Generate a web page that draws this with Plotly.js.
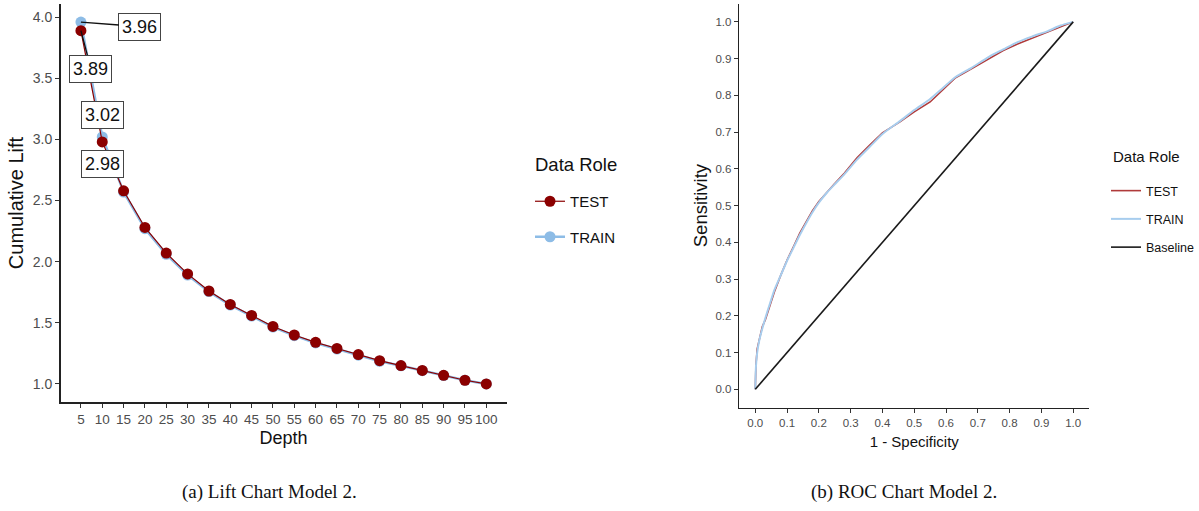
<!DOCTYPE html>
<html>
<head>
<meta charset="utf-8">
<script src="https://cdn.plot.ly/plotly-3.0.1.min.js"></script>
<style>html,body{margin:0;padding:0;background:#fff;}#chart{width:1199px;height:511px;}</style>
</head>
<body>
<div id="chart"></div>
<script>
// ---- Lift chart data ----
const depth = [5,10,15,20,25,30,35,40,45,50,55,60,65,70,75,80,85,90,95,100];
const liftTest = [3.89,2.98,2.58,2.28,2.07,1.90,1.76,1.65,1.56,1.47,1.40,1.34,1.29,1.24,1.19,1.15,1.11,1.07,1.03,1.00];
const liftTrain = [3.96,3.02,2.57,2.27,2.06,1.89,1.755,1.645,1.555,1.465,1.395,1.335,1.285,1.235,1.185,1.148,1.108,1.068,1.03,1.00];
const depthTicks = depth;
const liftTicks = [1.0,1.5,2.0,2.5,3.0,3.5,4.0];

// ---- ROC chart data ----
const fprTrain = [0,0.002,0.006,0.013,0.022,0.032,0.045,0.06,0.08,0.10,0.12,0.14,0.16,0.18,0.20,0.225,0.25,0.28,0.32,0.36,0.40,0.455,0.50,0.55,0.59,0.63,0.68,0.735,0.78,0.825,0.87,0.92,0.96,1.0];
const tprTrain = [0,0.06,0.10,0.135,0.165,0.195,0.23,0.27,0.31,0.35,0.385,0.42,0.452,0.482,0.508,0.535,0.558,0.585,0.625,0.66,0.695,0.73,0.76,0.79,0.82,0.85,0.875,0.905,0.925,0.945,0.96,0.975,0.99,1.0];
const fprTest = [0,0.002,0.006,0.013,0.022,0.032,0.045,0.06,0.08,0.10,0.12,0.14,0.16,0.18,0.20,0.225,0.25,0.28,0.32,0.36,0.40,0.455,0.50,0.55,0.59,0.63,0.68,0.735,0.78,0.825,0.87,0.92,0.96,1.0];
const tprTest = [0,0.065,0.11,0.14,0.17,0.19,0.225,0.265,0.31,0.352,0.388,0.425,0.456,0.486,0.511,0.537,0.56,0.588,0.63,0.665,0.698,0.728,0.755,0.782,0.815,0.848,0.872,0.9,0.922,0.94,0.955,0.972,0.985,1.0];
const baseX = [0,1];
const baseY = [0,1];
const rocTicks = [0,0.1,0.2,0.3,0.4,0.5,0.6,0.7,0.8,0.9,1.0];

const RED = '#8B0000';
const BLUE = '#8DBCE6';
const ROC_RED = '#B03A3A';
const ROC_BLUE = '#A7CDEE';
const FONT = 'Liberation Sans, Arial, sans-serif';
const SERIF = 'Liberation Serif, serif';

const traces = [
  {x: depth, y: liftTrain, name: 'TRAIN', type: 'scatter', mode: 'lines+markers',
   line: {color: BLUE, width: 2.5}, marker: {color: BLUE, size: 11},
   xaxis: 'x', yaxis: 'y', legend: 'legend', legendrank: 2, legendgroup: 'a2'},
  {x: depth, y: liftTest, name: 'TEST', type: 'scatter', mode: 'lines+markers',
   line: {color: RED, width: 1.2}, marker: {color: RED, size: 11},
   xaxis: 'x', yaxis: 'y', legend: 'legend', legendrank: 1, legendgroup: 'a1'},
  {x: fprTest, y: tprTest, name: 'TEST', type: 'scatter', mode: 'lines',
   line: {color: ROC_RED, width: 1.6},
   xaxis: 'x2', yaxis: 'y2', legend: 'legend2', legendrank: 1, legendgroup: 'b1'},
  {x: fprTrain, y: tprTrain, name: 'TRAIN', type: 'scatter', mode: 'lines',
   line: {color: ROC_BLUE, width: 2, shape: 'spline', smoothing: 0.6},
   xaxis: 'x2', yaxis: 'y2', legend: 'legend2', legendrank: 2, legendgroup: 'b2'},
  {x: baseX, y: baseY, name: 'Baseline', type: 'scatter', mode: 'lines',
   line: {color: '#1a1a1a', width: 1.6},
   xaxis: 'x2', yaxis: 'y2', legend: 'legend2', legendrank: 3, legendgroup: 'b3'}
];

const axisCommon = {
  showline: true, linecolor: '#222', linewidth: 1.6, ticks: 'outside', ticklen: 4,
  tickcolor: '#333', tickwidth: 1, showgrid: false, zeroline: false, tickangle: 0,
  tickfont: {family: FONT, size: 14, color: '#4D4D4D'}
};

function lbl(x, y, ax, ay, hideArrow) {
  return {x: x, y: y, xref: 'x', yref: 'y', text: y.toFixed(2), showarrow: true,
    ax: ax, ay: ay, arrowhead: 0, arrowwidth: 1.3,
    arrowcolor: hideArrow ? 'rgba(0,0,0,0)' : '#111',
    bgcolor: '#fff', bordercolor: '#444', borderwidth: 1, borderpad: 3,
    font: {family: FONT, size: 18, color: '#111'}};
}

const layout = {
  width: 1199, height: 511, margin: {l: 0, r: 0, t: 0, b: 0},
  paper_bgcolor: '#fff', plot_bgcolor: '#fff', showlegend: true,
  xaxis: Object.assign({}, axisCommon, {domain: [60.7/1199, 507/1199], anchor: 'y',
    range: [0.25, 104.75], tickvals: depthTicks, ticktext: depthTicks.map(String),
    tickfont: {family: FONT, size: 13.5, color: '#4D4D4D'},
    title: {text: 'Depth', font: {family: FONT, size: 18, color: '#111'}, standoff: 5}}),
  yaxis: Object.assign({}, axisCommon, {domain: [1 - 402/511, 1 - 4/511], anchor: 'x',
    range: [0.852, 4.108], tickvals: liftTicks, ticktext: liftTicks.map(v => v.toFixed(1)),
    title: {text: 'Cumulative Lift', font: {family: FONT, size: 20, color: '#111'}, standoff: 4}}),
  xaxis2: Object.assign({}, axisCommon, {domain: [740/1199, 1090/1199], anchor: 'y2',
    range: [-0.05, 1.05], tickvals: rocTicks, ticktext: rocTicks.map(v => v.toFixed(1)),
    tickfont: {family: FONT, size: 11.5, color: '#4D4D4D'},
    title: {text: '1 - Specificity', font: {family: FONT, size: 15, color: '#111'}, standoff: 8}}),
  yaxis2: Object.assign({}, axisCommon, {domain: [1 - 407.7/511, 1 - 3.5/511], anchor: 'x2',
    range: [-0.05, 1.05], tickvals: rocTicks, ticktext: rocTicks.map(v => v.toFixed(1)),
    tickfont: {family: FONT, size: 11.5, color: '#4D4D4D'},
    title: {text: 'Sensitivity', font: {family: FONT, size: 18.5, color: '#111'}, standoff: 3}}),
  legend: {x: 530/1199, y: 1 - 185/511, xanchor: 'left', yanchor: 'top',
    font: {family: FONT, size: 15, color: '#111'}, tracegroupgap: 13,
    bgcolor: 'rgba(0,0,0,0)', traceorder: 'grouped'},
  legend2: {x: 1107/1199, y: 1 - 176/511, xanchor: 'left', yanchor: 'top',
    font: {family: FONT, size: 12.5, color: '#111'}, tracegroupgap: 9,
    bgcolor: 'rgba(0,0,0,0)', traceorder: 'grouped'},
  annotations: [
    lbl(depth[0], liftTrain[0], 59, 4.5, false),
    lbl(depth[0], liftTest[0], 10, 38, false),
    lbl(depth[1], liftTrain[1], 0, -22, true),
    lbl(depth[1], liftTest[1], 0, 22, true),
    {x: 533/1199, y: 1 - 165/511, xref: 'paper', yref: 'paper', xanchor: 'left', yanchor: 'middle',
     showarrow: false, text: 'Data Role', font: {family: FONT, size: 18.5, color: '#111'}},
    {x: 1112/1199, y: 1 - 157/511, xref: 'paper', yref: 'paper', xanchor: 'left', yanchor: 'middle',
     showarrow: false, text: 'Data Role', font: {family: FONT, size: 15, color: '#111'}},
    {x: 270/1199, y: 1 - 492/511, xref: 'paper', yref: 'paper', xanchor: 'center', yanchor: 'middle',
     showarrow: false, text: '(a) Lift Chart Model 2.', font: {family: SERIF, size: 19, color: '#111'}},
    {x: 905/1199, y: 1 - 492/511, xref: 'paper', yref: 'paper', xanchor: 'center', yanchor: 'middle',
     showarrow: false, text: '(b) ROC Chart Model 2.', font: {family: SERIF, size: 19, color: '#111'}}
  ]
};

Plotly.newPlot('chart', traces, layout, {displayModeBar: false, staticPlot: true});
</script>
</body>
</html>
